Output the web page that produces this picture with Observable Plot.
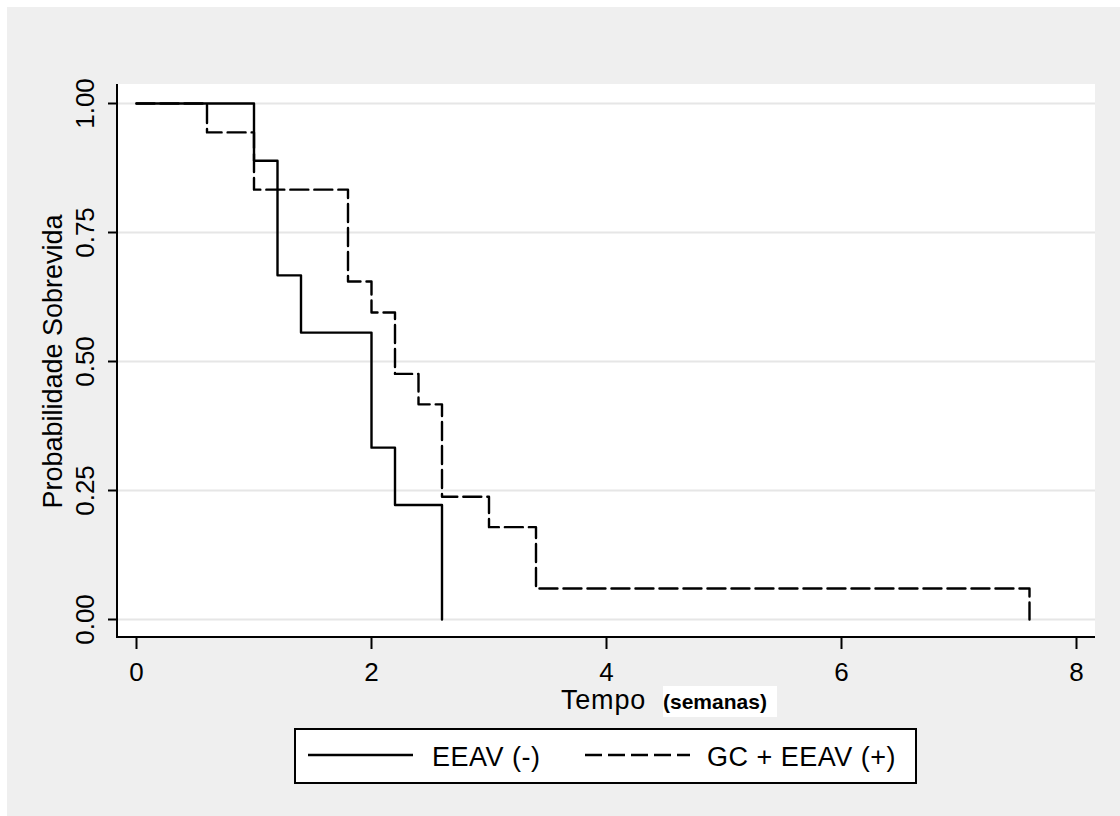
<!DOCTYPE html>
<html>
<head>
<meta charset="utf-8">
<script src="https://cdn.jsdelivr.net/npm/d3@7"></script>
<script src="https://cdn.jsdelivr.net/npm/@observablehq/plot@0.6"></script>
<style>
html,body{margin:0;padding:0;background:#fff;}
body{width:1120px;height:816px;position:relative;overflow:hidden;font-family:"Liberation Sans",Arial,sans-serif;color:#000;}
#panel{position:absolute;left:7px;top:7px;width:1113px;height:809px;background:#efefef;}
#plotarea{position:absolute;left:116px;top:84px;height:552px;background:#fff;border-left:2px solid #000;border-bottom:2px solid #000;box-sizing:content-box;width:977px;}
#chart{position:absolute;left:0;top:0;}
#chart svg{display:block;}
.lbl{position:absolute;white-space:nowrap;line-height:31px;height:31px;}
#tempo{left:561px;top:685px;font-size:27px;letter-spacing:0.8px;}
#semanas{left:663px;top:686px;width:114px;font-size:21px;font-weight:bold;background:#fff;}
#legend{position:absolute;left:294px;top:728px;width:623px;height:56px;box-sizing:border-box;border:2px solid #000;background:#fff;}
#legsvg{position:absolute;left:0;top:0;}
.legtxt{font-size:27px;top:742px;letter-spacing:0.5px;}
g[aria-label="ytitle"] text{letter-spacing:1.1px;}
</style>
</head>
<body>
<div id="panel"></div>
<div id="plotarea"></div>
<div id="chart"></div>
<div class="lbl" id="tempo">Tempo</div>
<div class="lbl" id="semanas">(semanas)</div>
<div id="legend"></div>
<svg id="legsvg" width="1120" height="816"></svg>
<div class="lbl legtxt" id="leg1" style="left:432px;"></div>
<div class="lbl legtxt" id="leg2" style="left:707px;"></div>
<script>
// ---- data ----
const seriesNames = ["EEAV (-)", "GC + EEAV (+)"];
const xTicks = [0, 2, 4, 6, 8];
const yTicks = [0, 0.25, 0.5, 0.75, 1];
const yTickLabels = ["0.00", "0.25", "0.50", "0.75", "1.00"];
const yTitle = "Probabilidade Sobrevida";

// EEAV (-) : Kaplan-Meier steps
const negTime = [0, 1.0, 1.2, 1.4, 2.0, 2.2, 2.6];
const negSurv = [1.0, 0.889, 0.667, 0.556, 0.333, 0.222, 0.0];
// GC + EEAV (+) : Kaplan-Meier steps
const posTime = [0, 0.6, 1.0, 1.8, 2.0, 2.2, 2.4, 2.6, 3.0, 3.4, 7.6];
const posSurv = [1.0, 0.944, 0.833, 0.655, 0.595, 0.476, 0.417, 0.238, 0.179, 0.060, 0.0];

const neg = negTime.map((t, i) => ({t, s: negSurv[i]}));
const pos = posTime.map((t, i) => ({t, s: posSurv[i]}));

const chart = Plot.plot({
  width: 1120,
  height: 816,
  marginLeft: 136,
  marginRight: 44,
  marginTop: 103,
  marginBottom: 197,
  style: {background: "transparent", overflow: "visible", fontFamily: "'Liberation Sans', Arial, sans-serif", color: "#000"},
  x: {domain: [0, 8]},
  y: {domain: [0, 1]},
  marks: [
    Plot.gridY(yTicks, {stroke: "#e6e6e6", strokeOpacity: 1, strokeWidth: 2, insetLeft: -18, insetRight: -19}),
    Plot.axisY(yTicks, {tickSize: 9, dx: -19, tickFormat: () => "", label: null, strokeWidth: 2, stroke: "#000"}),
    Plot.text(yTicks, {y: d => d, text: (d, i) => yTickLabels[i], frameAnchor: "left", dx: -51, rotate: -90, fontSize: 26, textAnchor: "middle", lineAnchor: "middle", fill: "#000"}),
    Plot.axisX(xTicks, {tickSize: 12, dy: 18, tickFormat: () => "", label: null, strokeWidth: 2, stroke: "#000"}),
    Plot.text(xTicks, {x: d => d, text: d => String(d), frameAnchor: "bottom", dy: 53, fontSize: 26, lineAnchor: "middle", fill: "#000"}),
    Plot.line(pos, {x: "t", y: "s", curve: "step-after", stroke: "#000", strokeWidth: 2.4, strokeDasharray: "18,6"}),
    Plot.line(neg, {x: "t", y: "s", curve: "step-after", stroke: "#000", strokeWidth: 2.4}),
    Plot.text([yTitle], {text: d => d, frameAnchor: "left", dx: -83, rotate: -90, fontSize: 27, textAnchor: "middle", lineAnchor: "middle", fill: "#000", ariaLabel: "ytitle"})
  ]
});
document.getElementById("chart").appendChild(chart);

// legend
document.getElementById("leg1").textContent = seriesNames[0];
document.getElementById("leg2").textContent = seriesNames[1];
const ls = d3.select("#legsvg");
ls.append("line").attr("x1", 308).attr("x2", 413).attr("y1", 755).attr("y2", 755).attr("stroke", "#000").attr("stroke-width", 2.4);
ls.append("line").attr("x1", 585).attr("x2", 690).attr("y1", 755).attr("y2", 755).attr("stroke", "#000").attr("stroke-width", 2.4).attr("stroke-dasharray", "17,6");
</script>
</body>
</html>
